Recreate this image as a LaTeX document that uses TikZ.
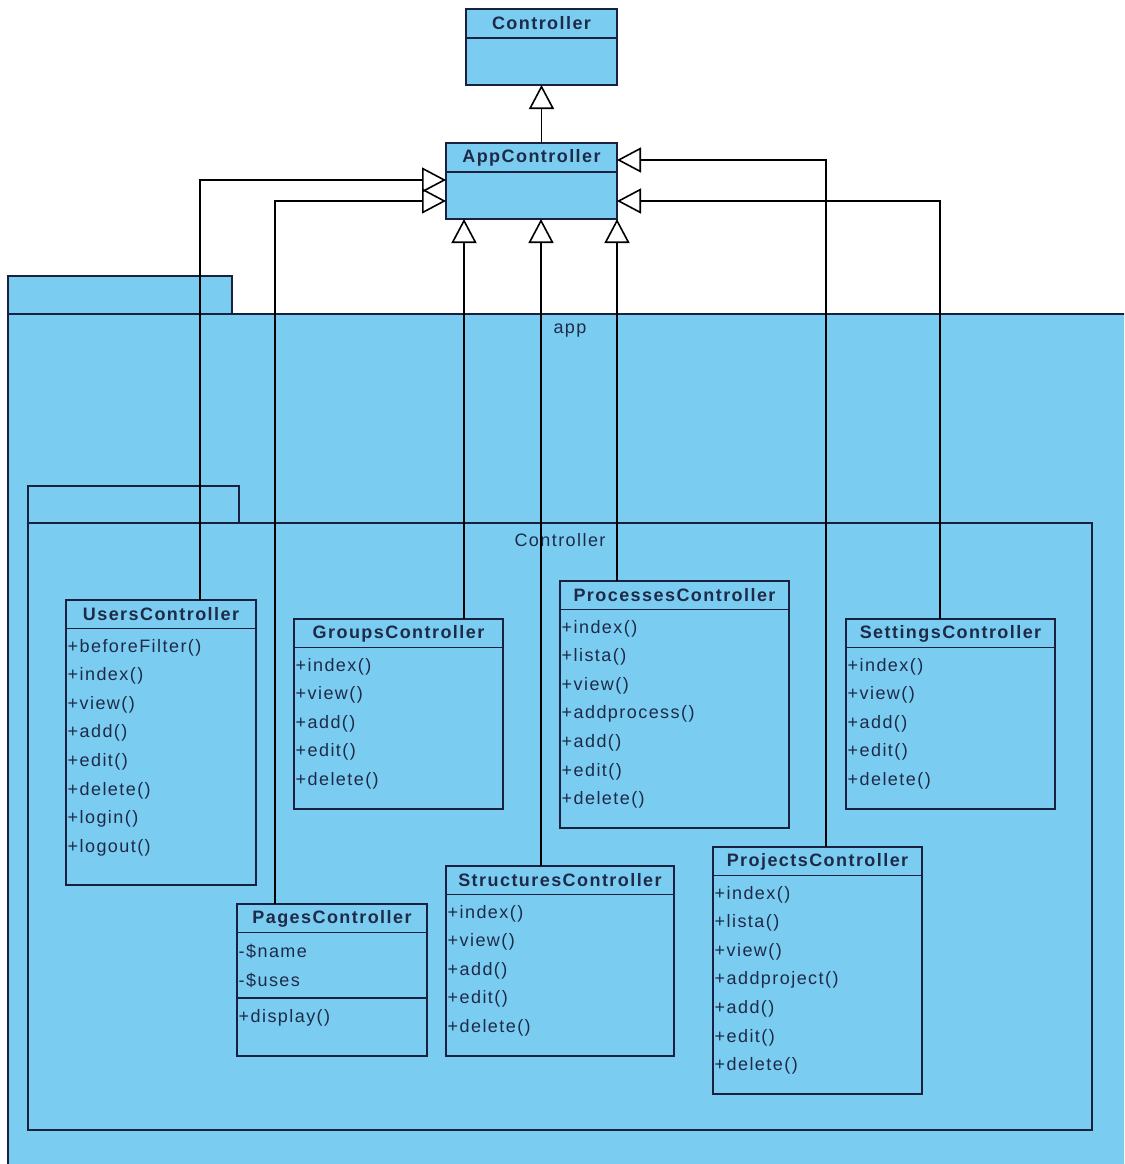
\documentclass[tikz,border=0pt]{standalone}
\usepackage{fontspec}
\setmainfont{Liberation Sans}[LetterSpace=8]
\usetikzlibrary{arrows.meta}
\definecolor{fillc}{RGB}{122,205,241}
\definecolor{linec}{RGB}{28,32,64}
\definecolor{txtc}{RGB}{30,42,72}
\newcommand\ucls[7]{%
  \node[cls, minimum width=#4pt, minimum height=#5pt] (#1) at (#2,#3) {};
  \draw[sepl] ([yshift=-28.5pt]#1.north west) -- ([yshift=-28.5pt]#1.north east);
  \node[ttl] (#1-t) at ([yshift=-14.5pt]#1.north) {#6};
  \foreach \mitem [count=\i] in {#7} {
    \node[itm] (#1-\i) at ([xshift=1.5pt,yshift={-18.8pt-\i*28.6pt}]#1.north west) {\mitem};
  }
}
\begin{document}
\begin{tikzpicture}[x=1pt,y=-1pt,
  cls/.style={draw=linec, fill=fillc, line width=1.5pt, anchor=north west, outer sep=0pt, inner sep=0pt},
  sepl/.style={draw=linec, line width=1.5pt},
  ttl/.style={font=\fontsize{18}{20}\selectfont\bfseries, text=txtc, inner sep=0pt},
  itm/.style={font=\fontsize{18}{20}\selectfont, text=txtc, anchor=west, inner sep=0pt},
  pkg/.style={draw=linec, fill=fillc, line width=1.5pt},
  plabel/.style={font=\fontsize{18}{20}\selectfont, text=txtc, inner sep=0pt},
  inh/.style={draw=black, line width=1.6pt, -{Triangle[open, length=24pt, width=25pt]}}]
\path[use as bounding box, clip] (0,0) rectangle (1124,1164);

% outer package "app"
\draw[pkg] (8,276) rectangle (232,314);
\draw[pkg] (8,314) rectangle (1140,1180);
\node[plabel] (applbl) at (570,331) {app};

% inner package "Controller"
\draw[pkg] (28,486) rectangle (239,523);
\draw[pkg] (28,523) rectangle (1092,1130);
\node[plabel] (ctrllbl) at (560,540) {Controller};

% top classes
\node[cls, minimum width=151pt, minimum height=76pt] (ctrl) at (466,9) {};
\draw[sepl] ([yshift=-29pt]ctrl.north west) -- ([yshift=-29pt]ctrl.north east);
\node[ttl] (ctrl-t) at ([yshift=-14.5pt]ctrl.north) {Controller};

\node[cls, minimum width=171pt, minimum height=76pt] (app) at (446,143) {};
\draw[sepl] ([yshift=-29pt]app.north west) -- ([yshift=-29pt]app.north east);
\node[ttl] (app-t) at ([yshift=-14.5pt]app.north) {AppController};

% classes inside package
\ucls{users}{66}{600}{190}{285}{UsersController}{+beforeFilter(),+index(),+view(),+add(),+edit(),+delete(),+login(),+logout()}
\ucls{groups}{294}{619}{209}{190}{GroupsController}{+index(),+view(),+add(),+edit(),+delete()}
\ucls{procs}{560}{581}{229}{247}{ProcessesController}{+index(),+lista(),+view(),+addprocess(),+add(),+edit(),+delete()}
\ucls{sets}{846}{619}{209}{190}{SettingsController}{+index(),+view(),+add(),+edit(),+delete()}
\ucls{pages}{237}{904}{190}{152}{PagesController}{-\$name,-\$uses}
\draw[sepl] ([yshift=-94pt]pages.north west) -- ([yshift=-94pt]pages.north east);
\node[itm] (pages-op) at ([xshift=1.5pt,yshift=-114pt]pages.north west) {+display()};
\ucls{structs}{446}{866}{228}{190}{StructuresController}{+index(),+view(),+add(),+edit(),+delete()}
\ucls{projs}{713}{847}{209}{247}{ProjectsController}{+index(),+lista(),+view(),+addproject(),+add(),+edit(),+delete()}

% generalizations
\draw[inh] (app.north -| ctrl.south) -- (ctrl.south);
\draw[inh] (users.north -| 200,0) |- (app.west |- 0,180);
\draw[inh] (pages.north -| 275,0) |- (app.west |- 0,201);
\draw[inh] (groups.north -| 464,0) -- (app.south -| 464,0);
\draw[inh] (structs.north -| 541,0) -- (app.south -| 541,0);
\draw[inh] (procs.north -| app.south east) -- (app.south east);
\draw[inh] (projs.north -| 826,0) |- (app.east |- 0,160);
\draw[inh] (sets.north -| 940,0) |- (app.east |- 0,201);
\end{tikzpicture}
\end{document}
